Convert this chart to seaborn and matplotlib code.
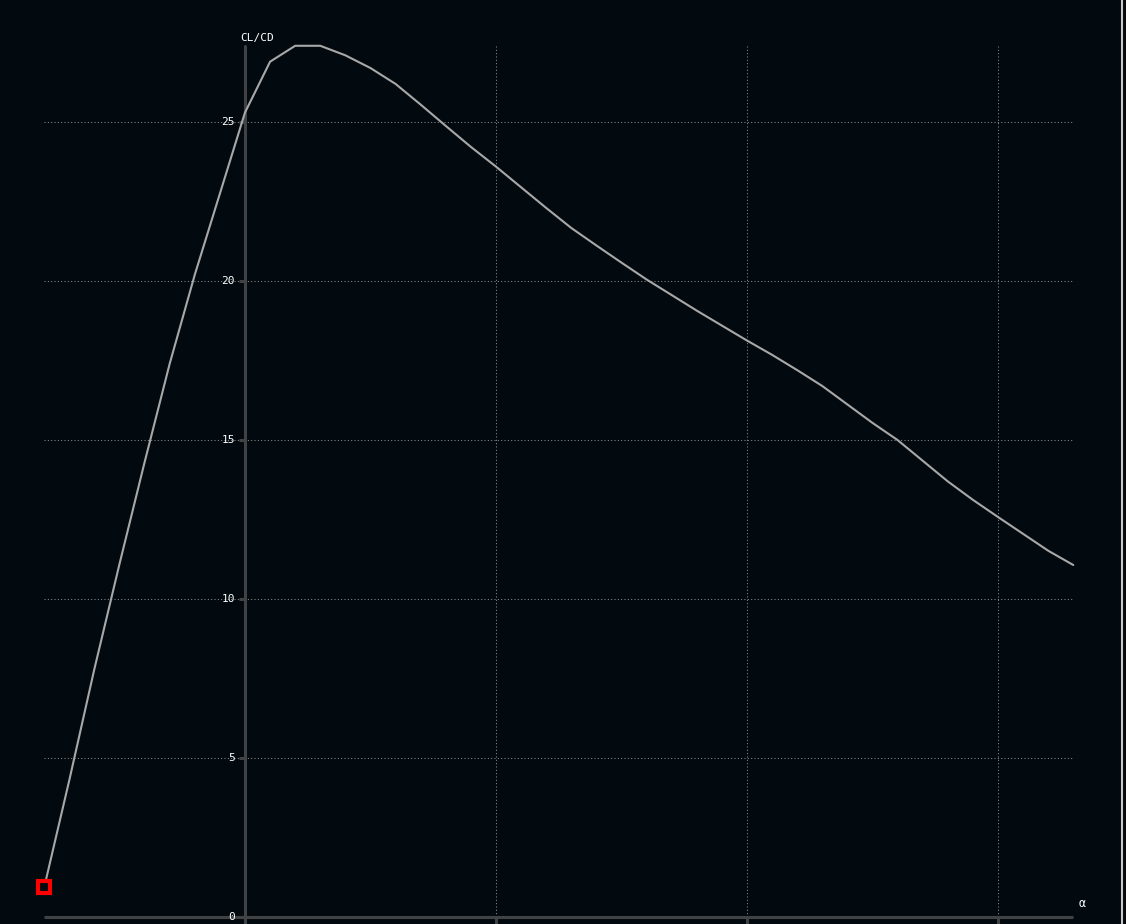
import numpy as np
import pandas as pd
import seaborn as sns
import matplotlib.pyplot as plt

# polar data
alpha = [-4.0, -3.5, -3.0, -2.5, -2.0, -1.5, -1.0, -0.5, 0.0, 0.5, 1.0, 1.5,
         2.0, 2.5, 3.0, 3.5, 4.0, 4.5, 5.0, 5.5, 6.0, 6.5, 7.0, 7.5, 8.0, 8.5,
         9.0, 9.5, 10.0, 10.5, 11.0, 11.5, 12.0, 12.5, 13.0, 13.5, 14.0, 14.5,
         15.0, 15.5, 16.0, 16.5]
cl_cd = [0.93, 4.3, 7.8, 11.1, 14.3, 17.4, 20.2, 22.75, 25.3, 26.9, 27.4, 27.4,
         27.1, 26.7, 26.2, 25.55, 24.88, 24.22, 23.6, 22.95, 22.3, 21.67, 21.12, 20.58,
         20.05, 19.56, 19.07, 18.6, 18.13, 17.68, 17.2, 16.7, 16.12, 15.54, 15.0, 14.35,
         13.7, 13.12, 12.58, 12.05, 11.52, 11.07]
y_ticks = [0, 5, 10, 15, 20, 25]
x_ticks = [0, 5, 10, 15]

df = pd.DataFrame({"alpha": alpha, "CL/CD": cl_cd})

bg = "#020a10"
axis_col = "#404244"
grid_col = "#8c8c8c"
txt_col = "#ffffff"

sns.set_theme(style="dark", rc={"axes.facecolor": bg, "figure.facecolor": bg})
plt.rcParams['font.family'] = ['DejaVu Sans Mono', 'DejaVu Sans']

fig = plt.figure(figsize=(11.26, 9.24), dpi=100)
ax = fig.add_axes([0, 0, 1, 1])
ax.set_facecolor(bg)
for s in ax.spines.values():
    s.set_visible(False)
ax.set_xticks([])
ax.set_yticks([])
ax.grid(False)

ymax = max(cl_cd)
xlo, xhi = alpha[0], alpha[-1]

# dotted grid
ax.hlines(y_ticks[1:], xlo, xhi, colors=grid_col, linewidth=0.75,
          linestyles=(0, (1, 2.2)), zorder=1)
ax.vlines(x_ticks[1:], 0, ymax, colors=grid_col, linewidth=0.75,
          linestyles=(0, (1, 2.2)), zorder=1)

# axes through the origin
ax.hlines(0, xlo, xhi, colors=axis_col, linewidth=2.2, zorder=2)
ax.axvline(0, ymin=0, ymax=(ymax + 0.22) / 29.06, color=axis_col, linewidth=2.2, zorder=2)
ax.plot(np.zeros(len(y_ticks)), y_ticks, linestyle="none", marker=0,
        markersize=4, markeredgewidth=2.2, color=axis_col, zorder=2)
ax.plot(x_ticks, np.zeros(len(x_ticks)), linestyle="none", marker=3,
        markersize=6, markeredgewidth=2.2, color=axis_col, zorder=2)

for v in y_ticks:
    ax.annotate(str(v), (0, v), xytext=(-10, 0), textcoords="offset pixels",
                ha="right", va="center", color=txt_col, fontsize=8)
ax.annotate("CL/CD", (0, ymax), xytext=(-5, 8), textcoords="offset pixels",
            ha="left", va="center", color=txt_col, fontsize=8)
ax.annotate("α", (xhi, 0), xytext=(9, 14), textcoords="offset pixels",
            ha="center", va="center", color=txt_col, fontsize=8.5)

sns.lineplot(data=df, x="alpha", y="CL/CD", ax=ax, color="#a8a8a8",
             linewidth=1.5, sort=False, zorder=3)
# first point marked with a hollow red square
ax.plot(alpha[:1], cl_cd[:1], marker="s", markersize=8, markerfacecolor=bg,
        markeredgecolor="#ff0000", markeredgewidth=3, linestyle="none", zorder=4)

ax.set_xlim(-4.88, 17.55)
ax.set_ylim(-0.22, 28.84)
ax.set_xlabel("")
ax.set_ylabel("")

# window edge on the right
fig.add_artist(plt.Line2D([0.9966, 0.9966], [0, 1], color="#c8c8c8", linewidth=1.5))

fig.savefig("out.png", dpi=100, facecolor=bg)
